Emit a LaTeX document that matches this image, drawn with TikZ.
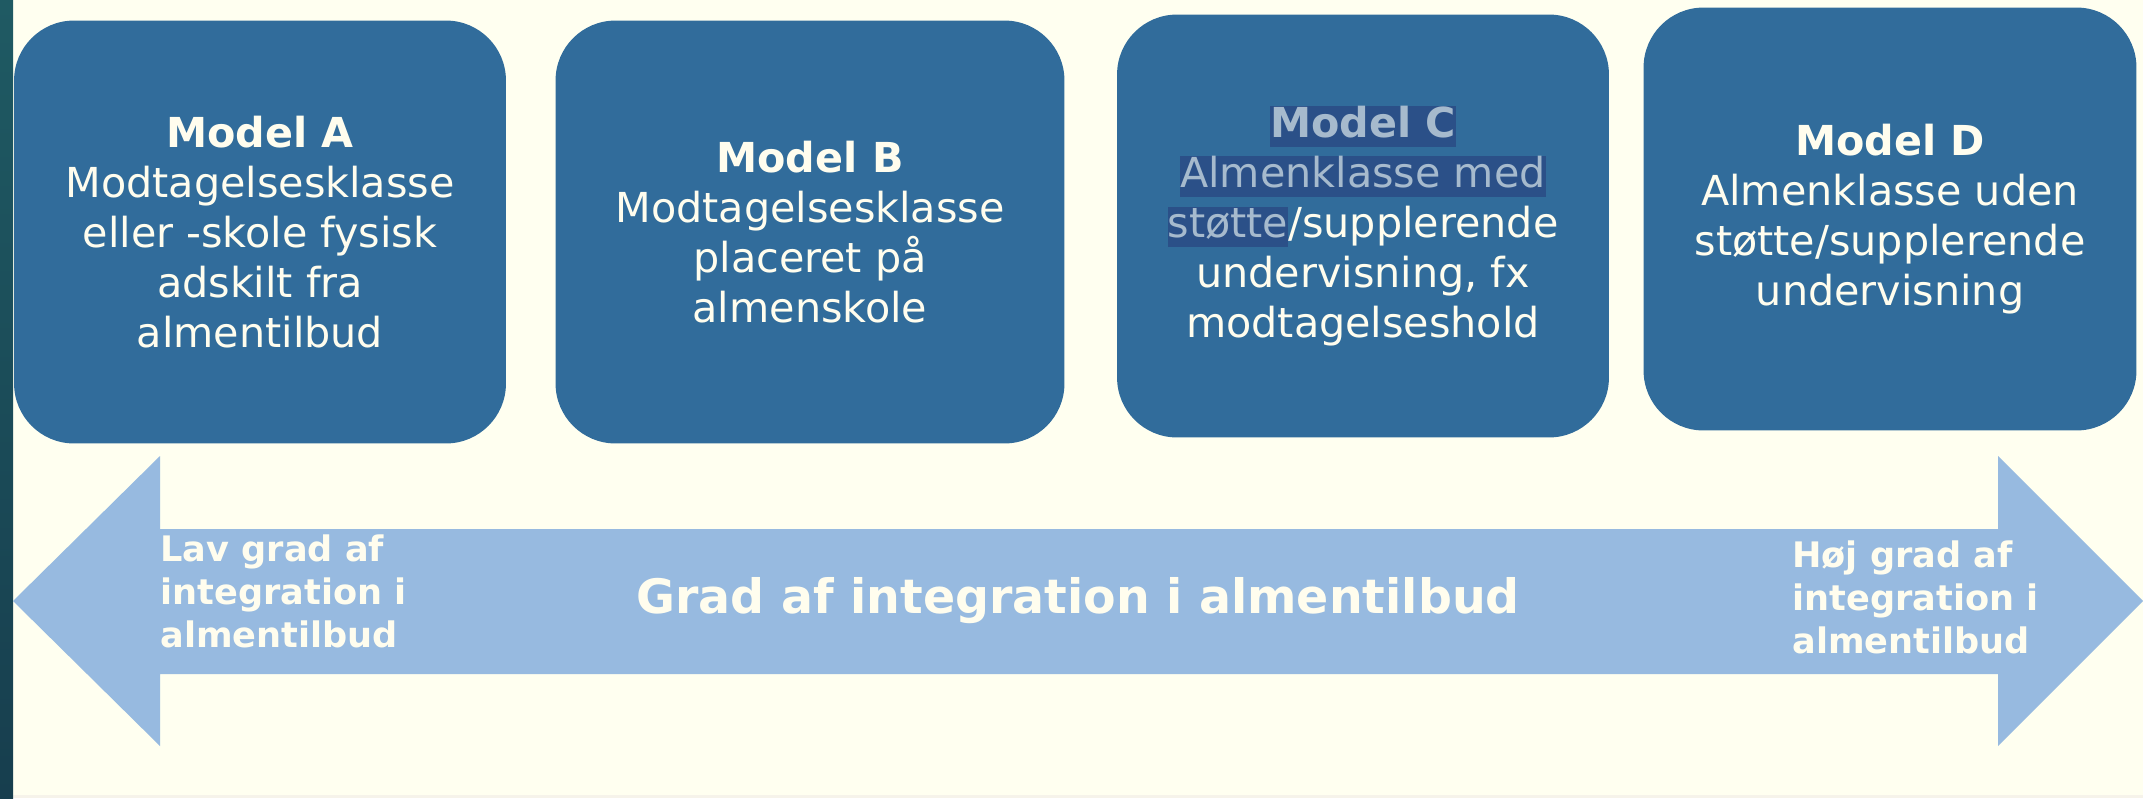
\documentclass[tikz,border=0pt]{standalone}
\usepackage{fontspec}
\setmainfont{DejaVu Sans}

\definecolor{pagecream}{HTML}{FFFFF0}
\definecolor{modelblue}{HTML}{316C9B}
\definecolor{arrowblue}{HTML}{97BAE0}
\definecolor{textcream}{HTML}{FFFDEE}
\definecolor{markblue}{HTML}{2B5088}
\definecolor{marktext}{HTML}{A6BACD}
\definecolor{stripteal}{HTML}{1F5A63}
\definecolor{stripdark}{HTML}{173E4E}
\definecolor{footline}{HTML}{F6F3EA}

\newcommand{\marked}[1]{{\setlength{\fboxsep}{0pt}\colorbox{markblue}{\textcolor{marktext}{\rule[-5.5pt]{0pt}{23pt}#1}}}}

\begin{document}
\begin{tikzpicture}[x=0.02cm,y=-0.02cm,
  modelbox/.style={fill=modelblue,rounded corners=1.2cm,text=textcream,align=center,
    minimum height=8.46cm,font=\fontsize{23.5}{28.5}\selectfont},
  sidetext/.style={text=textcream,align=left,anchor=west,inner sep=0pt,
    font=\bfseries\fontsize{20}{24.5}\selectfont}]

\useasboundingbox (0,0) rectangle (2143,798);
\fill[pagecream] (0,0) rectangle (2143,798);
\fill[footline] (0,795) rectangle (2143,798);
\shade[top color=stripteal,bottom color=stripdark] (0,0) rectangle (13,798);

\node[modelbox,minimum width=9.84cm] (modelA) at (260,232) {\textbf{Model A}\\ Modtagelsesklasse\\ eller -skole fysisk\\ adskilt fra\\ almentilbud};
\node[modelbox,minimum width=10.18cm] (modelB) at (810,232) {\textbf{Model B}\\ Modtagelsesklasse\\ placeret på\\ almenskole};
\node[modelbox,minimum width=9.84cm] (modelC) at (1363,226) {\marked{\textbf{Model C}}\\ \marked{Almenklasse med}\\ \marked{støtte}/supplerende\\ undervisning, fx\\ modtagelseshold};
\node[modelbox,minimum width=9.86cm] (modelD) at (1890,219) {\textbf{Model D}\\ Almenklasse uden\\ støtte/supplerende\\ undervisning};

% the double arrow
\fill[arrowblue] (13,601) -- (160,456) -- (160,529) -- (1998,529) -- (1998,456) -- (2143,601)
  -- (1998,746) -- (1998,674) -- (160,674) -- (160,746) -- cycle;

\node[text=textcream,font=\bfseries\fontsize{27}{32}\selectfont] (midlabel) at (1078,601) {Grad af integration i almentilbud};
\node[sidetext] (lowlabel) at (160,591) {Lav grad af\\ integration i\\ almentilbud};
\node[sidetext] (highlabel) at (1792,597) {Høj grad af\\ integration i\\ almentilbud};

\end{tikzpicture}
\end{document}
